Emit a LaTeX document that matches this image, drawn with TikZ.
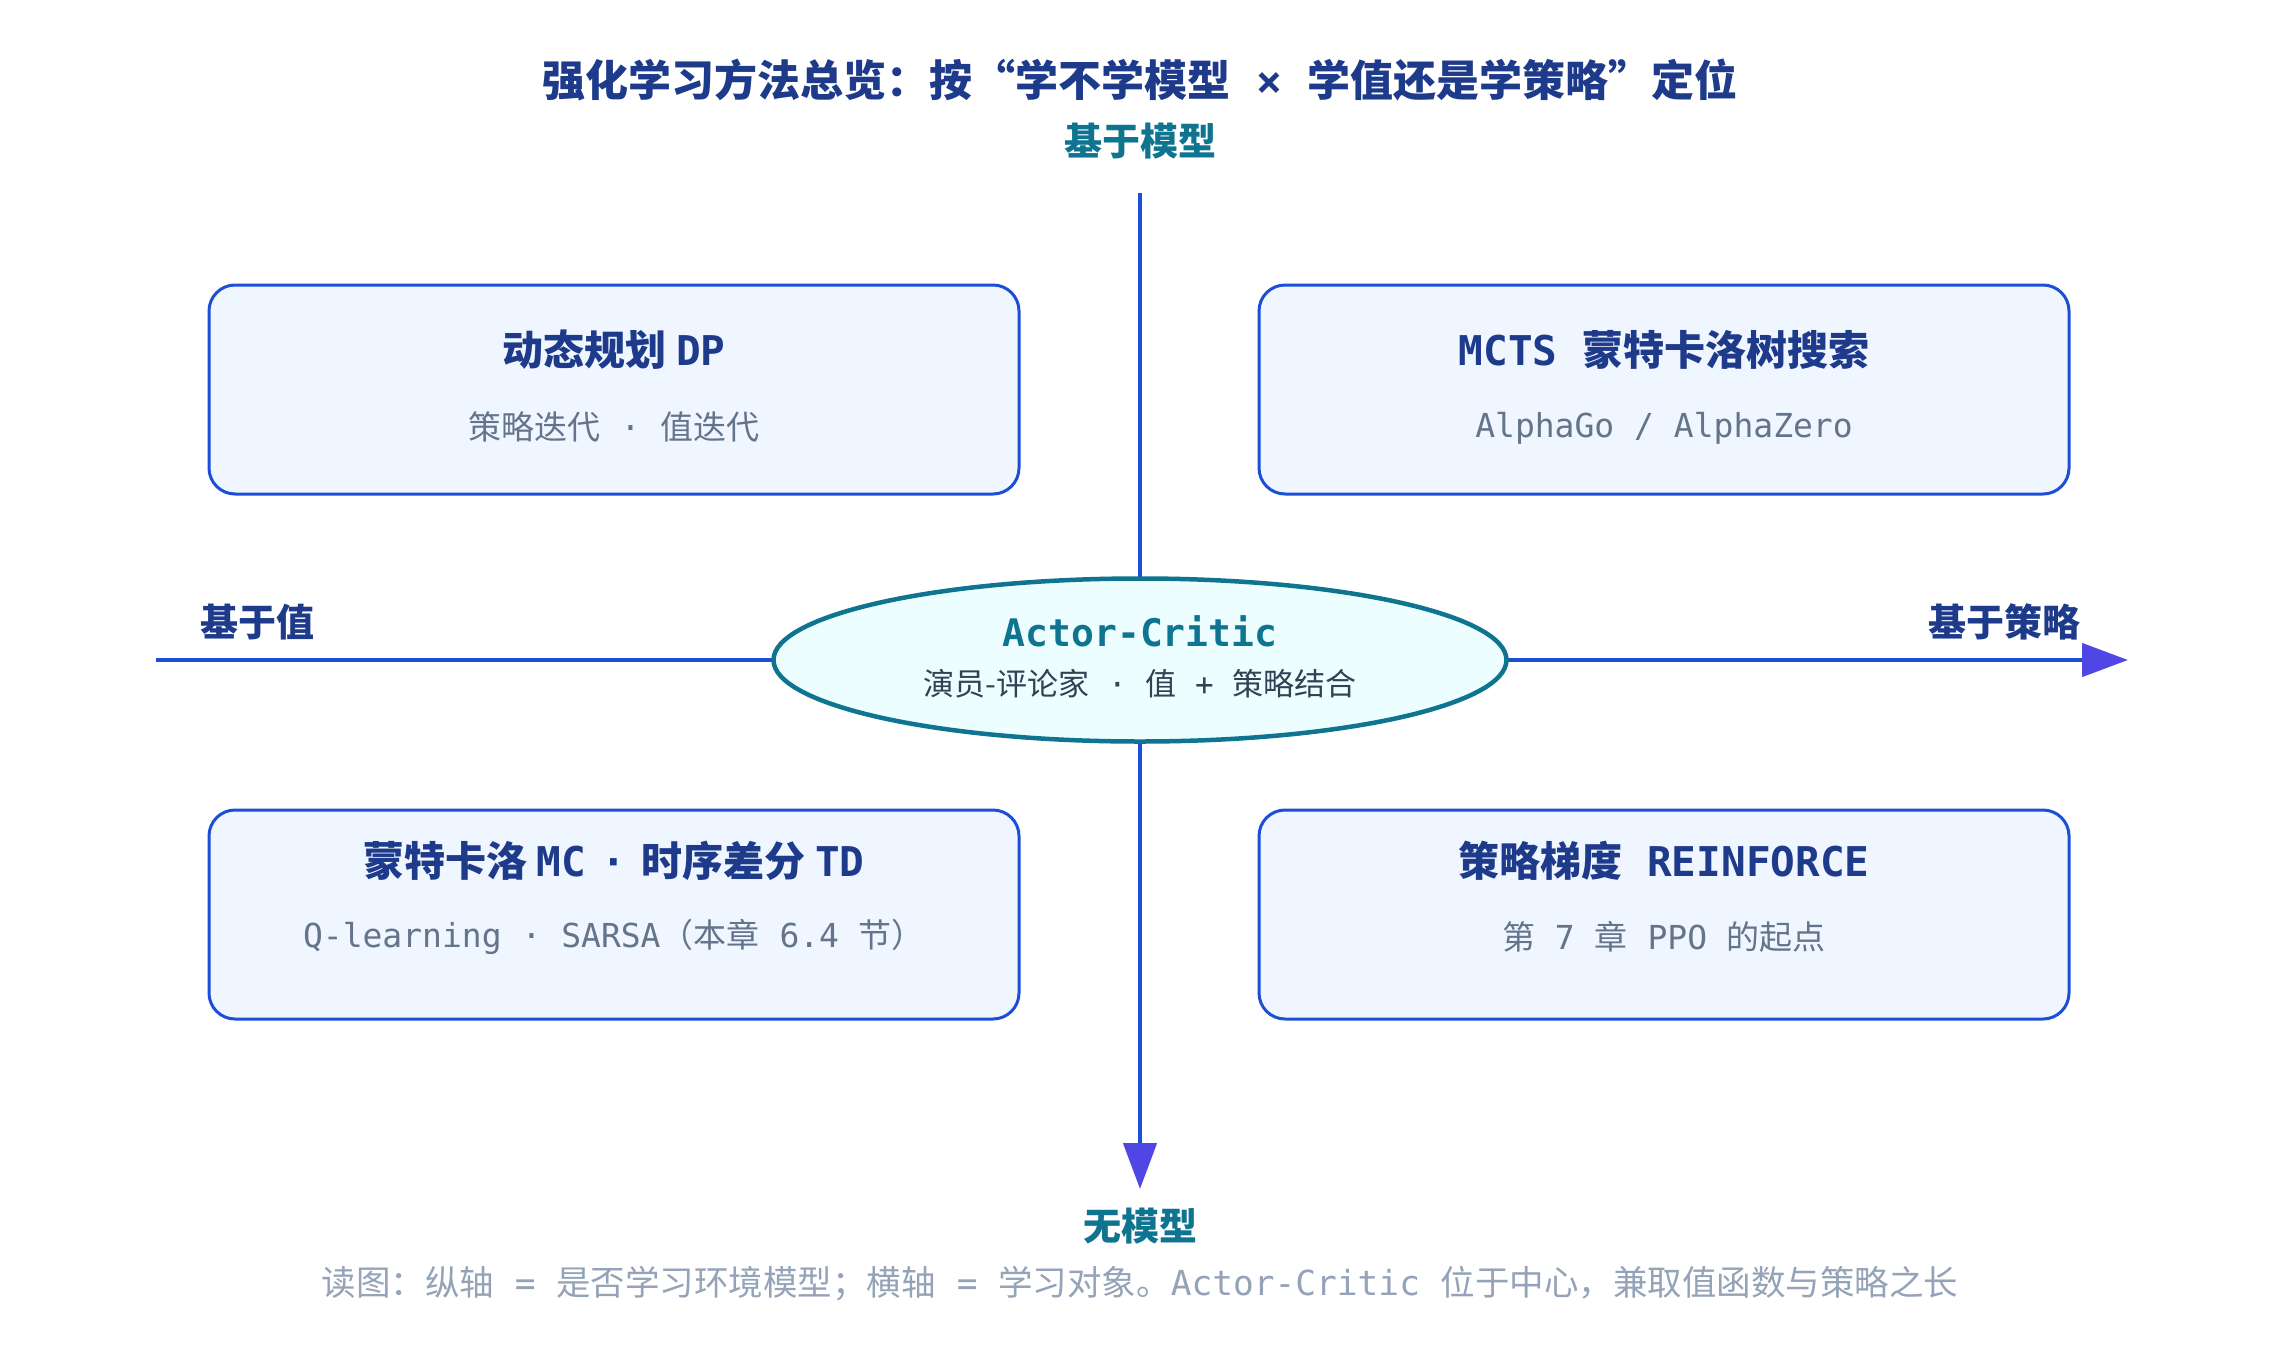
\documentclass[tikz,border=0pt]{standalone}
\usepackage{fontspec}
\setmainfont{DejaVu Sans Mono}
\newfontfamily\cjkfam{Noto Sans CJK SC}
\newcommand\zh[1]{{\cjkfam #1}}
\usetikzlibrary{arrows.meta,shapes.geometric}
\definecolor{cNavy}{HTML}{1E3A8A}
\definecolor{cTeal}{HTML}{0E7490}
\definecolor{cLine}{HTML}{1D4ED8}
\definecolor{cArrow}{HTML}{4F46E5}
\definecolor{cBoxFill}{HTML}{EFF6FF}
\definecolor{cEllFill}{HTML}{ECFEFF}
\definecolor{cSub}{HTML}{64748B}
\definecolor{cDark}{HTML}{334155}
\definecolor{cFoot}{HTML}{94A3B8}
\tikzset{
  quad/.style={draw=cLine, line width=3pt, fill=cBoxFill, rounded corners=26pt,
    minimum width=810pt, minimum height=209pt, inner sep=0pt},
  qtitle/.style={text=cNavy, font=\fontsize{41}{49}\selectfont\bfseries, inner sep=0pt},
  qsub/.style={text=cSub, font=\fontsize{33}{40}\selectfont, inner sep=0pt},
  axislbl/.style={font=\fontsize{38}{46}\selectfont\bfseries, inner sep=0pt},
  axisline/.style={draw=cLine, line width=4.5pt,
    -{Triangle[length=46pt,width=33pt,color=cArrow,fill=cArrow]}}
}
\begin{document}
\begin{tikzpicture}[x=1pt,y=-1pt]
\useasboundingbox[fill=white] (0,0) rectangle (2280,1344);

% title
\node[text=cNavy, font=\fontsize{43}{52}\selectfont\bfseries, inner sep=0pt] (title) at (1140,80)
  {\zh{强化学习方法总览：按“学不学模型} × \zh{学值还是学策略”定位}};

% axis labels
\node[axislbl, text=cTeal] (top) at (1140,141) {\zh{基于模型}};
\node[axislbl, text=cTeal] (bottom) at (1140,1226) {\zh{无模型}};
\node[axislbl, text=cNavy] (left) at (257,622) {\zh{基于值}};
\node[axislbl, text=cNavy] (right) at (2004,622) {\zh{基于策略}};

% axes
\coordinate (hL) at (156,660);
\coordinate (hR) at (2128,660);
\coordinate (vT) at (1140,193);
\coordinate (vB) at (1140,1189);
\draw[axisline] (hL) -- (hR);
\draw[axisline] (vT) -- (vB);

% quadrant boxes
\node[quad] (dp) at (614,389.5) {};
\node[qtitle] (dpT) at (614,350) {\zh{动态规划 }DP};
\node[qsub] (dpS) at (614,427) {\zh{策略迭代} · \zh{值迭代}};

\node[quad] (mcts) at (1664,389.5) {};
\node[qtitle] (mctsT) at (1664,350) {MCTS \zh{蒙特卡洛树搜索}};
\node[qsub] (mctsS) at (1664,428) {AlphaGo / AlphaZero};

\node[quad] (mctd) at (614,914.5) {};
\node[qtitle] (mctdT) at (614,861) {\zh{蒙特卡洛 }MC\zh{ }\hspace{6pt}·\hspace{6pt}\zh{ 时序差分 }TD};
\node[qsub] (mctdS) at (614,937) {Q-learning · SARSA\zh{（本章} 6.4 \zh{节）}};

\node[quad] (pg) at (1664,914.5) {};
\node[qtitle] (pgT) at (1664,861) {\zh{策略梯度} REINFORCE};
\node[qsub] (pgS) at (1664,937) {\zh{第} 7 \zh{章} PPO \zh{的起点}};

% centre ellipse
\node[ellipse, draw=cTeal, line width=4.5pt, fill=cEllFill, minimum width=733pt,
  minimum height=163pt, inner sep=0pt] (ac) at (1140,660) {};
\node[text=cTeal, font=\fontsize{38}{46}\selectfont\bfseries, inner sep=0pt] (acT) at (1140,631) {Actor-Critic};
\node[text=cDark, font=\fontsize{31}{37}\selectfont, inner sep=0pt] (acS) at (1140,684)
  {\zh{演员-评论家} · \zh{值} + \zh{策略结合}};

% footer
\node[text=cFoot, font=\fontsize{34.5}{41}\selectfont, inner sep=0pt] (foot) at (1140,1284)
  {\zh{读图：纵轴} = \zh{是否学习环境模型；横轴} = \zh{学习对象。}Actor-Critic \zh{位于中心，兼取值函数与策略之长}};
\end{tikzpicture}
\end{document}
